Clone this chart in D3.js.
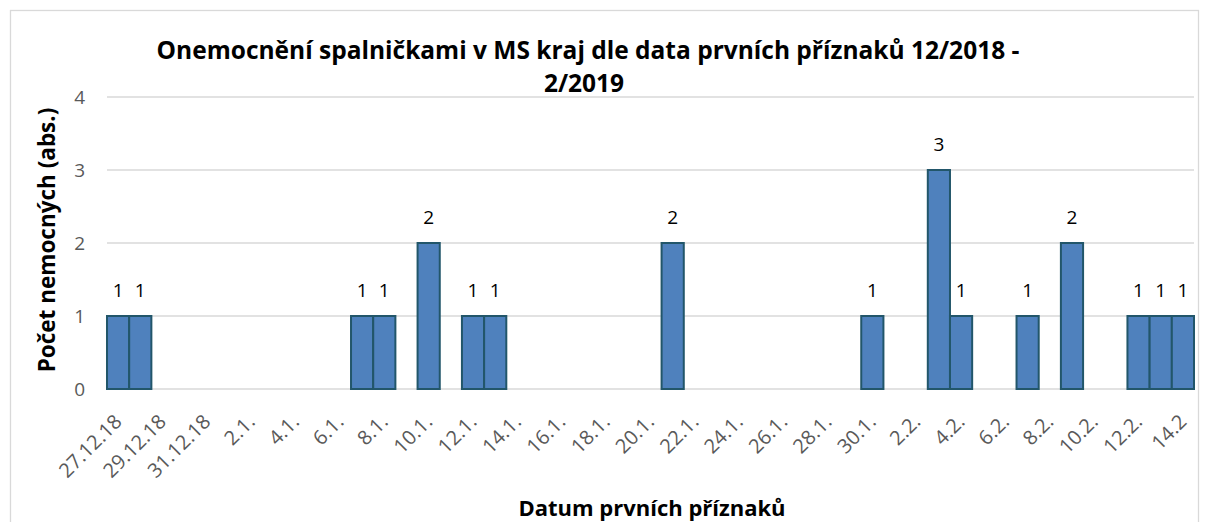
<!DOCTYPE html>
<html>
<head>
<meta charset="utf-8">
<script src="https://cdn.jsdelivr.net/npm/d3@7"></script>
<style>
  body { margin: 0; background: #fff; }
  svg { display: block; font-family: "Open Sans", sans-serif; }
</style>
</head>
<body>
<script>
const width = 1209;
const height = 522;

// one category per day with first symptoms (31.1. is not in the source table's axis)
const categories = ['27.12.18', '28.12.18', '29.12.18', '30.12.18', '31.12.18',
  '1.1.', '2.1.', '3.1.', '4.1.', '5.1.', '6.1.', '7.1.', '8.1.', '9.1.', '10.1.',
  '11.1.', '12.1.', '13.1.', '14.1.', '15.1.', '16.1.', '17.1.', '18.1.', '19.1.', '20.1.',
  '21.1.', '22.1.', '23.1.', '24.1.', '25.1.', '26.1.', '27.1.', '28.1.', '29.1.', '30.1.',
  '1.2.', '2.2.', '3.2.', '4.2.', '5.2.', '6.2.', '7.2.', '8.2.', '9.2.', '10.2.',
  '11.2.', '12.2.', '13.2.', '14.2'];
const cases = [1, 1, 0, 0, 0,
  0, 0, 0, 0, 0, 0, 1, 1, 0, 2,
  0, 1, 1, 0, 0, 0, 0, 0, 0, 0,
  2, 0, 0, 0, 0, 0, 0, 0, 0, 1,
  0, 0, 3, 1, 0, 0, 1, 0, 2, 0,
  0, 1, 1, 1];
const yTicks = [0, 1, 2, 3, 4];

const titleLines = ['Onemocnění spalničkami v MS kraj dle data prvních příznaků 12/2018 -', '2/2019'];
const yTitle = 'Počet nemocných (abs.)';
const xTitle = 'Datum prvních příznaků';

const plot = {left: 107, right: 1194, top: 97, bottom: 389};

const svg = d3.select('body').append('svg')
  .attr('width', width)
  .attr('height', height);

// chart frame
svg.append('rect')
  .attr('x', 10.5).attr('y', 10.5)
  .attr('width', 1188).attr('height', 530)
  .attr('fill', '#fff')
  .attr('stroke', '#d9d9d9')
  .attr('stroke-width', 1.3);

const x = d3.scaleBand()
  .domain(categories)
  .range([plot.left, plot.right])
  .padding(0);

const y = d3.scaleLinear()
  .domain([0, 4])
  .range([plot.bottom, plot.top]);

// gridlines
svg.append('g')
  .selectAll('line')
  .data(yTicks)
  .enter()
  .append('line')
  .attr('x1', plot.left)
  .attr('x2', plot.right)
  .attr('y1', d => y(d))
  .attr('y2', d => y(d))
  .attr('stroke', '#d9d9d9')
  .attr('stroke-width', 1.5);

// y tick labels
const yAxis = svg.append('g')
  .attr('transform', `translate(${plot.left - 22},0)`)
  .call(d3.axisLeft(y).tickValues(yTicks).tickFormat(d3.format('d')).tickSize(0).tickPadding(0));
yAxis.select('.domain').remove();
yAxis.selectAll('text')
  .attr('fill', '#595959')
  .style('font-size', '19px')
  .style('font-family', '"Open Sans", sans-serif');

const barData = cases.map((v, i) => ({cat: categories[i], v: v})).filter(d => d.v > 0);

// bars
svg.append('g')
  .selectAll('rect')
  .data(barData)
  .enter()
  .append('rect')
  .attr('x', d => x(d.cat))
  .attr('y', d => y(d.v))
  .attr('width', x.bandwidth())
  .attr('height', d => y(0) - y(d.v))
  .attr('fill', '#4f81bd')
  .attr('stroke', '#22566a')
  .attr('stroke-width', 2);

// value labels
svg.append('g')
  .selectAll('text')
  .data(barData)
  .enter()
  .append('text')
  .attr('x', d => x(d.cat) + x.bandwidth() / 2)
  .attr('y', d => y(d.v) - 19)
  .attr('text-anchor', 'middle')
  .attr('fill', '#000')
  .style('font-size', '19px')
  .text(d => d.v);

// x tick labels, every second day
const xAxis = svg.append('g')
  .attr('transform', `translate(0,${plot.bottom})`)
  .call(d3.axisBottom(x).tickValues(categories.filter((c, i) => i % 2 === 0)).tickSize(0).tickPadding(0));
xAxis.select('.domain').remove();
xAxis.selectAll('text')
  .attr('fill', '#595959')
  .style('font-size', '20px')
  .style('font-family', '"Open Sans", sans-serif')
  .attr('text-anchor', 'end')
  .attr('dy', null)
  .attr('y', 0)
  .attr('transform', 'translate(5,34) rotate(-45)');

// titles
svg.append('text')
  .attr('text-anchor', 'middle')
  .style('font-size', '24.5px')
  .style('font-weight', 'bold')
  .selectAll('tspan')
  .data(titleLines)
  .enter()
  .append('tspan')
  .attr('x', (d, i) => i === 0 ? 588 : 584)
  .attr('y', (d, i) => 59 + i * 33)
  .text(d => d);

svg.append('text')
  .attr('transform', 'translate(55,240) rotate(-90)')
  .attr('text-anchor', 'middle')
  .style('font-size', '22.5px')
  .style('font-weight', 'bold')
  .text(yTitle);

svg.append('text')
  .attr('x', 652)
  .attr('y', 516)
  .attr('text-anchor', 'middle')
  .style('font-size', '22px')
  .style('font-weight', 'bold')
  .text(xTitle);
</script>
</body>
</html>
